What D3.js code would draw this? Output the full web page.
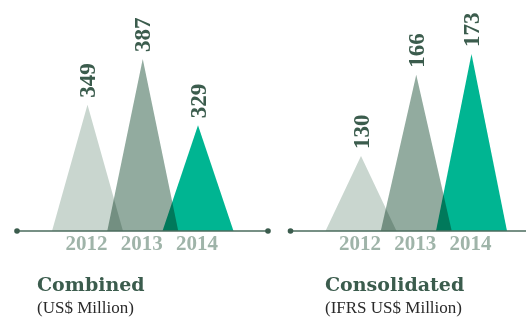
<!DOCTYPE html>
<html>
<head>
<meta charset="utf-8">
<script src="https://cdn.jsdelivr.net/npm/d3@7"></script>
<style>
  body { margin: 0; background: #fff; }
  svg { display: block; }
</style>
</head>
<body>
<script>
var width = 526;
var height = 322;

var years = ['2012', '2013', '2014'];
var combined = [349, 387, 329];
var consolidated = [130, 166, 173];
var titles = ['Combined', 'Consolidated'];
var subtitles = ['(US$ Million)', '(IFRS US$ Million)'];

var colors = ['#c9d6cf', '#92ab9f', '#00b592'];
var dark = '#3b5c4d';

var baseY = 231;
var halfBase = 35.5;

// layout of the two panels
var panels = [
    { x0: 17, x1: 268, titleX: 37, values: combined, top: 172, title: titles[0], sub: subtitles[0] },
    { x0: 290.5, x1: 540, titleX: 325, values: consolidated, top: 177, title: titles[1], sub: subtitles[1] }
];

var svg = d3.select('body')
    .append('svg')
    .attr('width', width)
    .attr('height', height);

var xScale = d3.scalePoint()
    .domain(years)
    .range([70.5, 181]);

panels.forEach(function(p) {
    var g = svg.append('g')
        .attr('transform', 'translate(' + p.x0 + ',0)');

    var yScale = d3.scalePow()
        .exponent(3)
        .domain([0, d3.max(p.values)])
        .range([baseY, baseY - p.top]);

    var data = years.map(function(y, i) { return { year: y, value: p.values[i], color: colors[i] }; });

    // triangles, overlaps darken through multiply
    g.append('g')
        .style('isolation', 'isolate')
        .selectAll('path')
        .data(data)
        .enter()
        .append('path')
        .attr('d', function(d) {
            var cx = xScale(d.year);
            return 'M' + (cx - halfBase) + ',' + baseY +
                'L' + cx + ',' + yScale(d.value) +
                'L' + (cx + halfBase) + ',' + baseY + 'Z';
        })
        .attr('fill', function(d) { return d.color; })
        .style('mix-blend-mode', 'multiply');

    // value labels
    g.selectAll('.val')
        .data(data)
        .enter()
        .append('text')
        .attr('class', 'val')
        .attr('transform', function(d) {
            return 'translate(' + xScale(d.year) + ',' + (yScale(d.value) - 7) + ') rotate(-90)';
        })
        .attr('dy', '0.33em')
        .attr('font-family', 'Liberation Serif, serif')
        .attr('font-weight', 'bold')
        .attr('font-size', 23)
        .attr('fill', dark)
        .text(function(d) { return d.value; });

    // axis line with end dots
    g.append('line')
        .attr('x1', 0)
        .attr('x2', p.x1 - p.x0)
        .attr('y1', baseY)
        .attr('y2', baseY)
        .attr('stroke', '#4a6b5c')
        .attr('stroke-width', 1.6);

    g.selectAll('circle')
        .data([0, p.x1 - p.x0])
        .enter()
        .append('circle')
        .attr('cx', function(d) { return d; })
        .attr('cy', baseY)
        .attr('r', 2.8)
        .attr('fill', dark);

    // year labels
    g.selectAll('.yr')
        .data(years)
        .enter()
        .append('text')
        .attr('class', 'yr')
        .attr('x', function(d) { return xScale(d) - 1; })
        .attr('y', 250)
        .attr('text-anchor', 'middle')
        .attr('font-family', 'Liberation Serif, serif')
        .attr('font-weight', 'bold')
        .attr('font-size', 21)
        .attr('fill', '#9fb4a9')
        .text(function(d) { return d; });

    svg.append('text')
        .attr('x', p.titleX)
        .attr('y', 291)
        .attr('font-family', 'DejaVu Serif, serif')
        .attr('font-weight', 'bold')
        .attr('font-size', 19)
        .attr('fill', dark)
        .text(p.title);

    svg.append('text')
        .attr('x', p.titleX)
        .attr('y', 313)
        .attr('font-family', 'Liberation Serif, serif')
        .attr('font-size', 17)
        .attr('fill', '#2a2a2a')
        .text(p.sub);
});
</script>
</body>
</html>
